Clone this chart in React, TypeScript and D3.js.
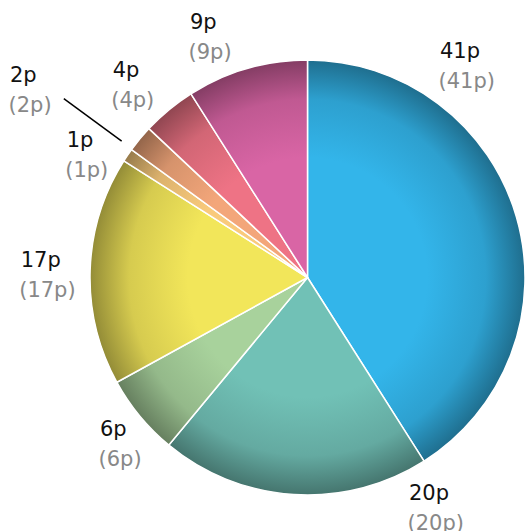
import React from "react";
import * as d3 from "d3";

// Slice values, in drawing order (clockwise from 12 o'clock)
const values = [41, 20, 6, 17, 1, 2, 4, 9];
const labels = ["41p", "20p", "6p", "17p", "1p", "2p", "4p", "9p"];
const colors = ["#33b5ea", "#71c1b6", "#a8d29c", "#f2e65a", "#f9ca7c", "#f3a67a", "#ee7385", "#d965a5"];

// Label block placement: [dx, dy] of the first line's left baseline, relative to the pie centre
const labelOffsets: [number, number][] = [
  [132.5, -219.5],
  [101.5, 222.5],
  [-207.5, 158.5],
  [-286.8, -10.5],
  [-240.8, -130.5],
  [-297.5, -195.5],
  [-194.8, -200.5],
  [-117.5, -249],
];
// Slice that gets a leader line from its label
const leaderIndex = 5;

const W = 527;
const H = 531;
const cx = 307.5;
const cy = 277.5;
const R = 217.5;
const lineGap = 30;

export default function App() {
  const pie = d3.pie<number>().sort(null).value((d) => d)(values);
  const arc = d3.arc<d3.PieArcDatum<number>>().innerRadius(0).outerRadius(R);

  const polar = (a: number, r: number): [number, number] => [cx + r * Math.sin(a), cy - r * Math.cos(a)];
  const lead = pie[leaderIndex];
  const la = lead.startAngle + 0.005;
  const [lx1, ly1] = polar(la, R * 1.06);
  const [lx2, ly2] = polar(la, R * 1.39);

  return (
    <svg
      width={W}
      height={H}
      style={{ position: "absolute", left: 0, top: 0, display: "block" }}
      fontFamily="'DejaVu Sans', sans-serif"
    >
      <defs>
        {colors.map((c, i) => {
          const base = d3.color(c)!;
          return (
            <radialGradient key={i} id={`shade${i}`} gradientUnits="userSpaceOnUse" cx={0} cy={0} r={R}>
              <stop offset="0" stopColor={base.formatHex()} />
              <stop offset="0.55" stopColor={base.formatHex()} />
              <stop offset="0.82" stopColor={base.darker(0.35).formatHex()} />
              <stop offset="1" stopColor={base.darker(1.4).formatHex()} />
            </radialGradient>
          );
        })}
      </defs>
      <g transform={`translate(${cx},${cy})`}>
        {pie.map((p, i) => (
          <path key={i} d={arc(p) || ""} fill={`url(#shade${i})`} stroke="#ffffff" strokeWidth={1.5} strokeLinejoin="round" />
        ))}
      </g>
      <line x1={lx1} y1={ly1} x2={lx2} y2={ly2} stroke="#000" strokeWidth={1.5} />
      {labels.map((t, i) => {
        const [dx, dy] = labelOffsets[i];
        return (
          <g key={i} fontSize={21}>
            <text x={cx + dx} y={cy + dy} fill="#111">
              {t}
            </text>
            <text x={cx + dx - 1.5} y={cy + dy + lineGap} fill="#888">
              {`(${t})`}
            </text>
          </g>
        );
      })}
    </svg>
  );
}
